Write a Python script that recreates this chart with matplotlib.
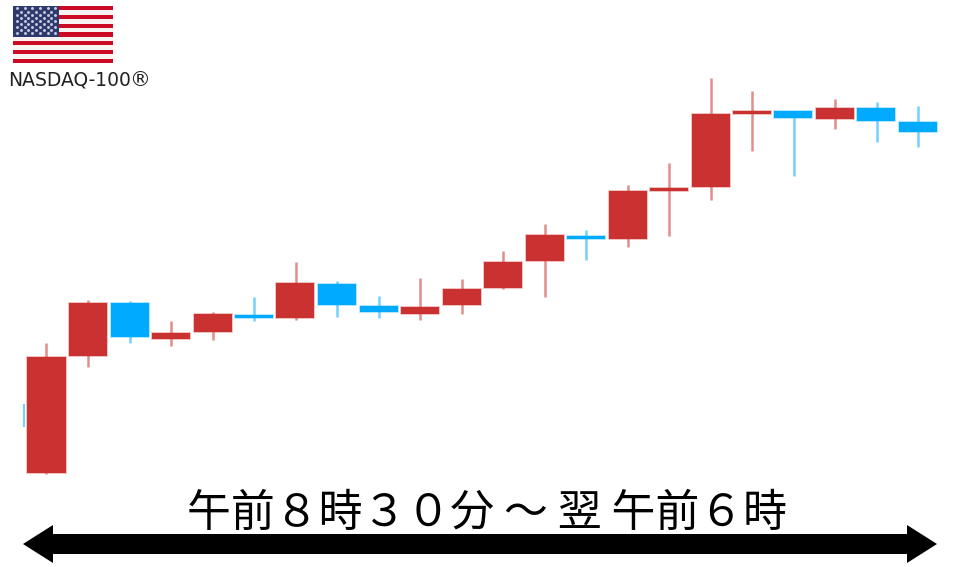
import matplotlib
matplotlib.use("Agg")
import matplotlib.pyplot as plt
from matplotlib.patches import Polygon, Rectangle

W, H = 960, 567
FONTS = ['Noto Sans CJK JP', 'DejaVu Sans']
plt.rcParams['font.family'] = FONTS

# Candles (arbitrary price units, no axis is shown)
open_ = [94, 211, 264, 228, 235, 252, 249, 283, 261, 253, 262, 279, 306, 331, 328, 376, 380, 453, 456, 448, 459, 445]
close = [210, 264, 230, 234, 253, 249, 284, 262, 255, 260, 278, 305, 332, 328, 376, 379, 453, 456, 449, 459, 446, 435]
high = [224, 267, 266, 246, 255, 270, 305, 286, 271, 289, 288, 316, 343, 337, 382, 404, 489, 476, 456, 468, 465, 461]
low = [93, 200, 224, 221, 227, 246, 247, 250, 249, 247, 253, 278, 270, 307, 320, 331, 367, 416, 391, 438, 425, 420]
categories = list(range(len(open_)))

# Partial candle peeking in at the far left (index position, low, high)
stub_x, stub_low, stub_high = -0.55, 140, 163

UP = '#C93230'
DOWN = '#00AAFF'
STEP = 41.5

fig = plt.figure(figsize=(W / 100, H / 100), dpi=100, facecolor='white')
ax = fig.add_axes([0, 0, 1, 1])
ax.set_xlim(-46.5 / STEP, (W - 46.5) / STEP)
ax.set_ylim(-0.5, H - 0.5)
ax.axis('off')

ax.vlines(stub_x, stub_low, stub_high, color=DOWN, alpha=0.55, lw=1.6, zorder=1)
for i, o, c, h, l in zip(categories, open_, close, high, low):
    col = UP if c >= o else DOWN
    ax.vlines(i, l, h, color=col, alpha=0.55, lw=1.8, zorder=2)
    ax.bar(i, abs(c - o), bottom=min(o, c), width=38 / STEP, color=col, zorder=4,
           edgecolor='none')
    ax.bar(i, abs(c - o), bottom=min(o, c), width=38 / STEP, color='none', zorder=3,
           edgecolor=col, linewidth=1.2, alpha=0.35)

# Overlay in pixel coordinates for flag, caption and arrow
ov = fig.add_axes([0, 0, 1, 1], facecolor='none')
ov.set_xlim(0, W)
ov.set_ylim(H, 0)
ov.axis('off')

FLAG_X, FLAG_Y, FLAG_W, FLAG_H = 13, 6, 100, 57
STRIPES = 13
sh = FLAG_H / STRIPES
for s in range(STRIPES):
    ov.add_patch(Rectangle((FLAG_X, FLAG_Y + s * sh), FLAG_W, sh,
                           color='#CC0A26' if s % 2 == 0 else '#F7F3F3', lw=0))
CW, CH = 46, sh * 7
ov.add_patch(Rectangle((FLAG_X, FLAG_Y), CW, CH, color='#2D3A6B', lw=0, zorder=3))
sx, sy = [], []
for r in range(9):
    n = 6 if r % 2 == 0 else 5
    for k in range(n):
        sx.append(FLAG_X + CW * ((k + (0.5 if r % 2 == 0 else 1.0)) / 6))
        sy.append(FLAG_Y + CH * ((r + 0.8) / 10))
ov.scatter(sx, sy, s=4.5, color='#C8CCE0', lw=0, zorder=4)

ov.text(8, 80.5, 'NASDAQ-100', fontsize=13.5, color='#222222', family=['DejaVu Sans'],
        va='center', ha='left')
ov.text(150.5, 80.5, '®', fontsize=15, color='#222222', family=['DejaVu Sans'],
        va='center', ha='right')

ov.text(487, 513, '午前８時３０分 ～ 翌 午前６時', fontsize=31.6, color='black',
        va='center', ha='center')

L, R, TOP, BOT, HT, HB, HL = 23, 937, 534, 554, 525, 563, 30
ov.add_patch(Polygon([(L, (TOP + BOT) / 2), (L + HL, HT), (L + HL, TOP), (R - HL, TOP),
                      (R - HL, HT), (R, (TOP + BOT) / 2), (R - HL, HB), (R - HL, BOT),
                      (L + HL, BOT), (L + HL, HB)], closed=True, color='black', lw=0))

fig.savefig('out.png', dpi=100)
